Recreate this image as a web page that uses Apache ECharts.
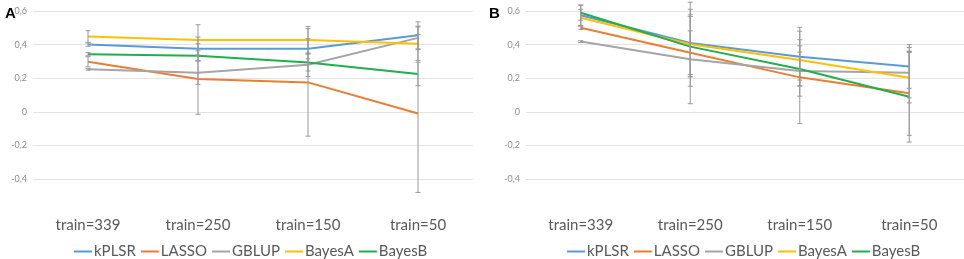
<!DOCTYPE html>
<html>
<head>
<meta charset="utf-8">
<script src="https://cdn.jsdelivr.net/npm/echarts@6/dist/echarts.min.js"></script>
<style>
  html, body { margin: 0; padding: 0; background: #fff; }
  #main { width: 964px; height: 259px; }
</style>
</head>
<body>
<div id="main"></div>
<script>
var categories = ['train=339', 'train=250', 'train=150', 'train=50'];
var names = ['kPLSR', 'LASSO', 'GBLUP', 'BayesA', 'BayesB'];
var colors = ['#5B9BD5', '#ED7D31', '#A5A5A5', '#FFC000', '#1DB04B'];

// panel A means and error (+/-)
var aKPLSR  = [0.400, 0.375, 0.375, 0.455];
var aLASSO  = [0.298, 0.195, 0.175, -0.010];
var aGBLUP  = [0.253, 0.233, 0.280, 0.440];
var aBayesA = [0.448, 0.428, 0.428, 0.405];
var aBayesB = [0.343, 0.333, 0.293, 0.225];

var aErrKPLSR  = [0.010, 0.070, 0.060, 0.080];
var aErrLASSO  = [0.030, 0.210, 0.320, 0.470];
var aErrGBLUP  = [0.005, 0.070, 0.070, 0.070];
var aErrBayesA = [0.035, 0.090, 0.080, 0.100];
var aErrBayesB = [0.010, 0.030, 0.050, 0.070];

// panel B means and error (+/-)
var bKPLSR  = [0.575, 0.410, 0.328, 0.270];
var bLASSO  = [0.500, 0.352, 0.205, 0.110];
var bGBLUP  = [0.418, 0.313, 0.243, 0.233];
var bBayesA = [0.560, 0.402, 0.309, 0.203];
var bBayesB = [0.590, 0.388, 0.255, 0.090];

var bErrKPLSR  = [0.060, 0.200, 0.175, 0.130];
var bErrLASSO  = [0.010, 0.130, 0.275, 0.250];
var bErrGBLUP  = [0.005, 0.265, 0.150, 0.150];
var bErrBayesA = [0.050, 0.250, 0.120, 0.150];
var bErrBayesB = [0.045, 0.180, 0.100, 0.270];

var panels = [
  { means: [aKPLSR, aLASSO, aGBLUP, aBayesA, aBayesB],
    errs: [aErrKPLSR, aErrLASSO, aErrGBLUP, aErrBayesA, aErrBayesB] },
  { means: [bKPLSR, bLASSO, bGBLUP, bBayesA, bBayesB],
    errs: [bErrKPLSR, bErrLASSO, bErrGBLUP, bErrBayesA, bErrBayesB] }
];

var font = 'Lato, "Open Sans", sans-serif';

function errRender(params, api) {
  var x = api.value(0);
  var lo = api.coord([x, api.value(1)]);
  var hi = api.coord([x, api.value(2)]);
  var w = 2.5;
  var st = { stroke: '#999999', lineWidth: 1 };
  return {
    type: 'group',
    children: [
      { type: 'line', shape: { x1: lo[0], y1: lo[1], x2: hi[0], y2: hi[1] }, style: st },
      { type: 'line', shape: { x1: lo[0] - w, y1: lo[1], x2: lo[0] + w, y2: lo[1] }, style: st },
      { type: 'line', shape: { x1: hi[0] - w, y1: hi[1], x2: hi[0] + w, y2: hi[1] }, style: st }
    ]
  };
}

var series = [];
panels.forEach(function (p, pi) {
  names.forEach(function (n, si) {
    series.push({
      name: n, type: 'line', xAxisIndex: pi, yAxisIndex: pi,
      data: p.means[si], symbol: 'none', smooth: false,
      lineStyle: { width: 2, color: colors[si] }, itemStyle: { color: colors[si] },
      z: 2
    });
  });
  names.forEach(function (n, si) {
    var d = p.means[si].map(function (m, i) {
      return [i, m - p.errs[si][i], m + p.errs[si][i]];
    });
    series.push({
      type: 'custom', xAxisIndex: pi, yAxisIndex: pi, data: d,
      renderItem: errRender, silent: true, z: 3,
      encode: { x: 0, y: [1, 2] }
    });
  });
});

var grids = [
  { left: 33, top: 11, width: 440, height: 168 },
  { left: 526, top: 11, width: 438, height: 168 }
];

function yAxis(gi) {
  return {
    type: 'value', gridIndex: gi, min: -0.4, max: 0.6, interval: 0.2,
    axisLine: { show: false }, axisTick: { show: false },
    splitLine: { lineStyle: { color: '#e3e3e3', width: 1 } },
    axisLabel: {
      color: '#8c8c8c', fontSize: 9, fontFamily: font, margin: 6,
      formatter: function (v) { return Math.abs(v) < 1e-9 ? '0' : v.toFixed(1).replace('.', ','); }
    }
  };
}
function xAxis(gi) {
  return {
    type: 'category', gridIndex: gi, data: categories, boundaryGap: true,
    axisLine: { show: false }, axisTick: { show: false },
    axisLabel: { color: '#595959', fontSize: 15, fontFamily: font, margin: 39 }
  };
}
function legend(left) {
  return {
    data: names, left: left, top: 239, icon: 'rect', itemWidth: 18, itemHeight: 2,
    itemGap: 5, selectedMode: false,
    textStyle: { color: '#595959', fontSize: 15, fontFamily: font, padding: [0, 0, 0, -3] }
  };
}

var myChart = echarts.init(document.getElementById('main'));
var option = {
  animation: false,
  backgroundColor: '#ffffff',
  title: [
    { text: 'A', left: 0, top: 1, textStyle: { fontSize: 15, fontWeight: 'bold', color: '#000', fontFamily: 'Liberation Sans, Arial, sans-serif' } },
    { text: 'B', left: 484, top: 1, textStyle: { fontSize: 15, fontWeight: 'bold', color: '#000', fontFamily: 'Liberation Sans, Arial, sans-serif' } }
  ],
  color: colors,
  grid: grids,
  xAxis: [xAxis(0), xAxis(1)],
  yAxis: [yAxis(0), yAxis(1)],
  legend: [legend(69), legend(562)],
  series: series
};
myChart.setOption(option);
</script>
</body>
</html>
